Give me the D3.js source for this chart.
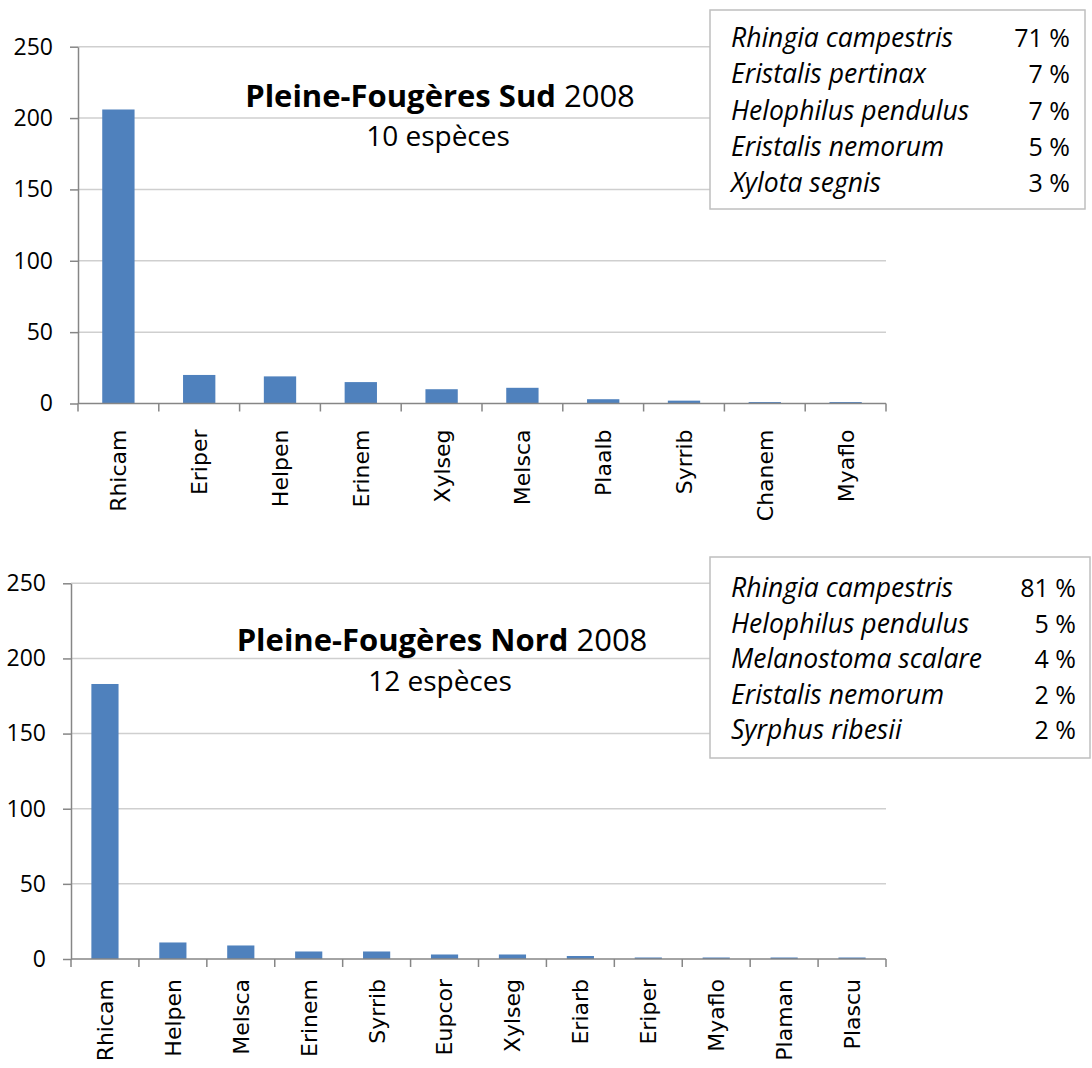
<!DOCTYPE html>
<html>
<head>
<meta charset="utf-8">
<script src="https://cdn.jsdelivr.net/npm/d3@7"></script>
<style>
  html, body { margin: 0; padding: 0; background: #fff; }
  svg { display: block; }
</style>
</head>
<body>
<svg id="chart" width="1092" height="1068"></svg>
<script>
// ---------- DATA ----------
const yTicks = [0, 50, 100, 150, 200, 250];

const sudTitle = "Pleine-Fougères Sud";
const sudYear = "2008";
const sudSubtitle = "10 espèces";
const sudCategories = ["Rhicam", "Eriper", "Helpen", "Erinem", "Xylseg", "Melsca", "Plaalb", "Syrrib", "Chanem", "Myaflo"];
const sudValues = [206, 20, 19, 15, 10, 11, 3, 2, 1, 1];
const sudLegendSpecies = ["Rhingia campestris", "Eristalis pertinax", "Helophilus pendulus", "Eristalis nemorum", "Xylota segnis"];
const sudLegendPct = ["71 %", "7 %", "7 %", "5 %", "3 %"];

const nordTitle = "Pleine-Fougères Nord";
const nordYear = "2008";
const nordSubtitle = "12 espèces";
const nordCategories = ["Rhicam", "Helpen", "Melsca", "Erinem", "Syrrib", "Eupcor", "Xylseg", "Eriarb", "Eriper", "Myaflo", "Plaman", "Plascu"];
const nordValues = [183, 11, 9, 5, 5, 3, 3, 2, 1, 1, 1, 1];
const nordLegendSpecies = ["Rhingia campestris", "Helophilus pendulus", "Melanostoma scalare", "Eristalis nemorum", "Syrphus ribesii"];
const nordLegendPct = ["81 %", "5 %", "4 %", "2 %", "2 %"];

// ---------- DRAW ----------
const svg = d3.select("#chart");
const NUM_FONT = "'Open Sans', sans-serif";
const LABEL_FONT = "'DejaVu Sans', sans-serif";
const BAR = "#4f81bd";
const GRID = "#cfcfcf";
const AXIS = "#868686";

function drawChart(o) {
  const g = svg.append("g");
  const x = d3.scaleBand().domain(o.categories).range([o.x0, o.x1]).paddingInner(0.6).paddingOuter(0.3);
  const y = d3.scaleLinear().domain([0, 250]).range([o.yZero, o.yTop]);
  const step = x.step();

  // gridlines
  g.selectAll(".grid").data(yTicks.filter(t => t > 0)).join("line")
    .attr("x1", o.x0).attr("x2", o.x1)
    .attr("y1", d => y(d)).attr("y2", d => y(d))
    .attr("stroke", GRID).attr("stroke-width", 1.5);

  // y axis
  const yAxis = d3.axisLeft(y).tickValues(yTicks).tickSize(8).tickPadding(17).tickSizeOuter(0);
  const ya = g.append("g").attr("transform", `translate(${o.x0},0)`).call(yAxis);
  ya.select(".domain").attr("stroke", AXIS).attr("stroke-width", 1.5);
  ya.selectAll(".tick line").attr("stroke", AXIS).attr("stroke-width", 1.5);
  ya.selectAll("text").attr("font-family", NUM_FONT).attr("font-size", 23).attr("fill", "#000");

  // bars
  g.selectAll(".bar").data(o.values).join("rect")
    .attr("x", (d, i) => x(o.categories[i]))
    .attr("width", x.bandwidth())
    .attr("y", d => y(d))
    .attr("height", d => y(0) - y(d))
    .attr("fill", BAR);

  // x axis line and boundary ticks
  g.append("line").attr("x1", o.x0).attr("x2", o.x1).attr("y1", y(0)).attr("y2", y(0))
    .attr("stroke", AXIS).attr("stroke-width", 1.5);
  const bounds = o.categories.map(c => x(c) - step * 0.3).concat([x(o.categories[o.categories.length - 1]) - step * 0.3 + step]);
  g.selectAll(".xt").data(bounds).join("line")
    .attr("x1", d => d).attr("x2", d => d)
    .attr("y1", y(0)).attr("y2", y(0) + 8)
    .attr("stroke", AXIS).attr("stroke-width", 1.5);

  // x labels
  g.selectAll(".xl").data(o.categories).join("text")
    .attr("transform", d => `translate(${x(d) + x.bandwidth() / 2},${y(0) + o.labelOffset}) rotate(-90)`)
    .attr("text-anchor", "end")
    .attr("dy", "0.36em")
    .attr("font-family", LABEL_FONT)
    .attr("font-size", 22)
    .attr("fill", "#000")
    .text(d => d);

  // title
  const t = g.append("text").attr("x", o.titleX).attr("y", o.titleY)
    .attr("text-anchor", "middle").attr("font-family", NUM_FONT).attr("font-size", 31).attr("fill", "#000");
  t.append("tspan").attr("font-weight", "bold").text(o.title);
  t.append("tspan").text(" " + o.year);
  g.append("text").attr("x", o.subX).attr("y", o.subY)
    .attr("text-anchor", "middle").attr("font-family", NUM_FONT).attr("font-size", 28).attr("fill", "#000")
    .text(o.subtitle);

  // legend box
  const lb = o.legendBox;
  g.append("rect").attr("x", lb.x).attr("y", lb.y).attr("width", lb.w).attr("height", lb.h)
    .attr("fill", "#fff").attr("stroke", "#bfbfbf").attr("stroke-width", 1.5);
  g.selectAll(".ls").data(o.species).join("text")
    .attr("x", lb.x + 21).attr("y", (d, i) => lb.y + lb.first + i * lb.gap)
    .attr("font-family", NUM_FONT).attr("font-style", "italic").attr("font-size", 26.5).attr("fill", "#000")
    .text(d => d);
  g.selectAll(".lp").data(o.pct).join("text")
    .attr("x", o.pctX).attr("y", (d, i) => lb.y + lb.first + i * lb.gap)
    .attr("text-anchor", "end")
    .attr("font-family", NUM_FONT).attr("font-size", 25).attr("fill", "#000")
    .text(d => d);
}

drawChart({
  categories: sudCategories, values: sudValues,
  title: sudTitle, year: sudYear, subtitle: sudSubtitle,
  species: sudLegendSpecies, pct: sudLegendPct,
  x0: 78, x1: 886, yTop: 46.7, yZero: 403.5, labelOffset: 26,
  titleX: 440, titleY: 107, subX: 438, subY: 146,
  legendBox: { x: 710, y: 10, w: 375, h: 199, first: 37, gap: 36.3 }, pctX: 1070
});

drawChart({
  categories: nordCategories, values: nordValues,
  title: nordTitle, year: nordYear, subtitle: nordSubtitle,
  species: nordLegendSpecies, pct: nordLegendPct,
  x0: 71, x1: 886, yTop: 583.3, yZero: 959, labelOffset: 20,
  titleX: 442, titleY: 651, subX: 440, subY: 691,
  legendBox: { x: 710, y: 557, w: 380, h: 201, first: 40, gap: 35.5 }, pctX: 1076
});
</script>
</body>
</html>
